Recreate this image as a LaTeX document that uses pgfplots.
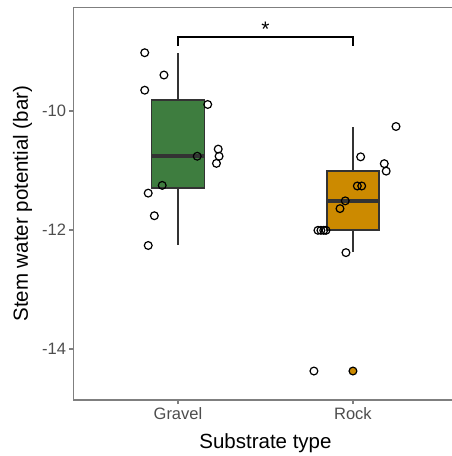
\documentclass[border=0pt]{standalone}
\usepackage{pgfplots}
\pgfplotsset{compat=1.18}
\usepgfplotslibrary{statistics}
\usepackage{fontspec}
\setmainfont{Liberation Sans}
\definecolor{gravel}{RGB}{62,125,63}
\definecolor{rock}{RGB}{204,138,0}
\definecolor{boxline}{RGB}{51,51,51}
\definecolor{axgrey}{RGB}{127,127,127}
\definecolor{tickgrey}{RGB}{77,77,77}
\begin{document}
\begin{tikzpicture}
\begin{axis}[
  scale only axis,
  width=378.5bp, height=392.5bp,
  xmin=0.403, xmax=2.566,
  ymin=-14.857, ymax=-8.26,
  axis x line=box, axis y line=left,
  axis line style={axgrey, line width=1.3bp},
  x axis line style={-}, y axis line style={-},
  xtick={1,2}, xticklabels={Gravel,Rock},
  ytick={-14,-12,-10},
  xtick pos=bottom, ytick pos=left,
  tick align=outside,
  major tick length=4bp,
  tick style={axgrey, line width=1.3bp},
  ticklabel style={font=\fontsize{16.5bp}{19bp}\selectfont, text=tickgrey},
  /pgf/number format/assume math mode=true,
  clip=false,
  boxplot/draw direction=y,
  boxplot/every median/.style={line width=3.6bp},
]
% boxplots
\addplot[boxplot prepared={lower whisker=-12.25, lower quartile=-11.29, median=-10.76,
  upper quartile=-9.815, upper whisker=-9.03, draw position=1, box extend=0.303, whisker extend=0},
  draw=boxline, fill=gravel, line width=1.8bp] coordinates {};
\addplot[boxplot prepared={lower whisker=-12.37, lower quartile=-12.005, median=-11.51,
  upper quartile=-11.01, upper whisker=-10.27, draw position=2, box extend=0.30, whisker extend=0},
  draw=boxline, fill=rock, line width=1.8bp] coordinates {};
% boxplot outlier (filled)
\addplot[only marks, mark=*, mark size=3.9bp, mark options={fill=rock, draw=black, line width=1.2bp}]
  coordinates {(2,-14.37)};
% jittered points Gravel
\addplot[only marks, mark=o, mark size=3.9bp, mark options={draw=black, line width=1.2bp}]
  coordinates {
  (0.81,-9.02) (0.92,-9.395) (0.81,-9.65) (1.17,-9.89)
  (1.23,-10.64) (1.235,-10.76) (1.22,-10.88) (1.11,-10.76)
  (0.91,-11.25) (0.83,-11.38) (0.865,-11.76) (0.83,-12.26)};
% jittered points Rock
\addplot[only marks, mark=o, mark size=3.9bp, mark options={draw=black, line width=1.2bp}]
  coordinates {
  (2.246,-10.26) (2.044,-10.77) (2.179,-10.885) (2.19,-11.01)
  (2.025,-11.26) (2.05,-11.26) (1.956,-11.51) (1.926,-11.64)
  (1.80,-12.005) (1.817,-12.005) (1.833,-12.005) (1.846,-12.005)
  (1.96,-12.38) (1.777,-14.37)};
% significance bracket
\addplot[black, line width=1.4bp, mark=none] coordinates {(1,-8.91) (1,-8.756) (2,-8.756) (2,-8.91)};
\node[anchor=base, font=\fontsize{21bp}{24bp}\selectfont] at (axis cs:1.5,-8.74) {*};
\coordinate (SW) at (rel axis cs:0,0);
\coordinate (NE) at (rel axis cs:1,1);
\coordinate (LM) at (rel axis cs:0,0.5);
\coordinate (BM) at (axis cs:1.5,-14.857);
\end{axis}
\node[rotate=90, anchor=base, font=\fontsize{20.5bp}{24bp}\selectfont] at ([xshift=-45.5bp]LM) {Stem water potential (bar)};
\node[anchor=base, font=\fontsize{20.5bp}{24bp}\selectfont] at ([yshift=-48bp]BM) {Substrate type};
\pgfresetboundingbox
\path[use as bounding box] ([xshift=-73.5bp,yshift=-56bp]SW) rectangle ([yshift=7.5bp]NE);
\end{tikzpicture}
\end{document}
